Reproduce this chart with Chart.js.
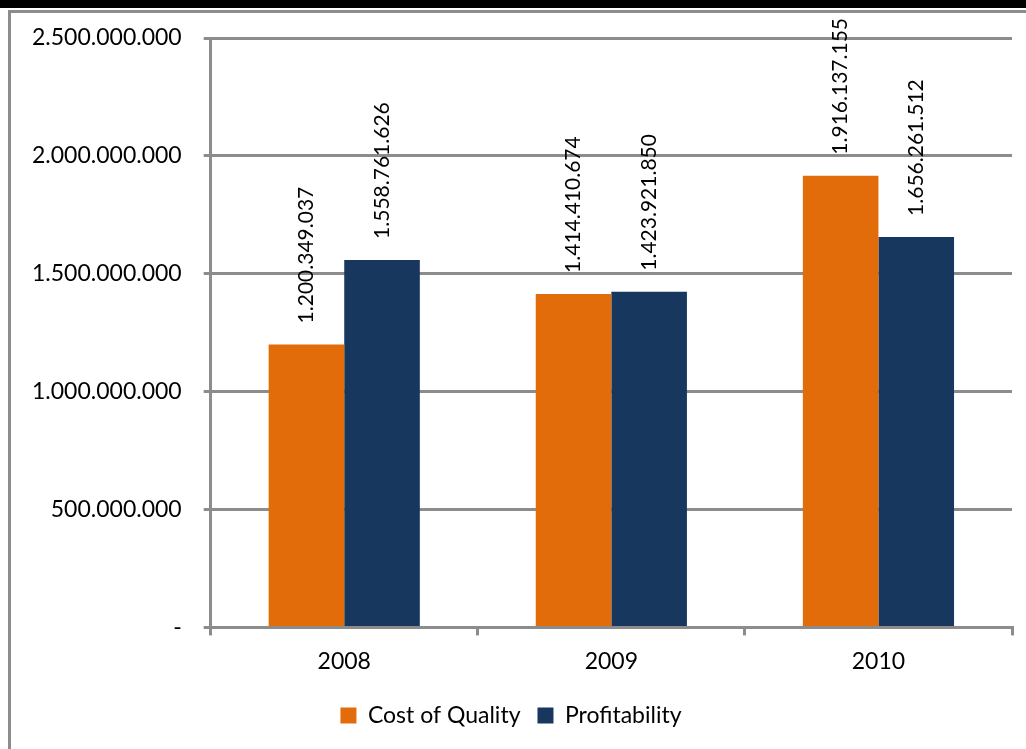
<!DOCTYPE html>
<html>
<head>
<meta charset="utf-8">
<script src="https://cdn.jsdelivr.net/npm/chart.js@4"></script>
<style>
  html, body { margin: 0; padding: 0; background: #fff; }
  #wrap { position: relative; width: 1026px; height: 749px; overflow: hidden; }
  #topbar { position: absolute; left: 0; top: 0; width: 1026px; height: 8px; background: #000; }
  #frame { position: absolute; left: 8px; top: 10px; width: 1100px; height: 800px;
           border-left: 3px solid #8c8c8c; border-top: 3px solid #8c8c8c; }
  canvas { position: absolute; left: 0; top: 0; }
</style>
</head>
<body>
<div id="wrap">
  <div id="topbar"></div>
  <div id="frame"></div>
  <canvas id="grafico" width="1026" height="749"></canvas>
</div>
<script>
var anos = ["2008", "2009", "2010"];
var costOfQuality = [1200349037, 1414410674, 1916137155];
var profitability = [1558761626, 1423921850, 1656261512];
var yTicks = [0, 500000000, 1000000000, 1500000000, 2000000000, 2500000000];

function formatar(v) {
  if (v === 0) return "-";
  return String(Math.round(v)).replace(/\B(?=(\d{3})+(?!\d))/g, ".");
}

// value labels drawn vertically above each bar
var rotulos = {
  id: "rotulos",
  afterDatasetsDraw: function (chart) {
    var ctx = chart.ctx;
    ctx.save();
    ctx.font = "21px Lato";
    ctx.fillStyle = "#000";
    ctx.textAlign = "left";
    ctx.textBaseline = "middle";
    chart.data.datasets.forEach(function (ds, i) {
      chart.getDatasetMeta(i).data.forEach(function (bar, j) {
        ctx.save();
        ctx.translate(bar.x, bar.y - 21);
        ctx.rotate(-Math.PI / 2);
        ctx.fillText(formatar(ds.data[j]), 0, 0);
        ctx.restore();
      });
    });
    ctx.restore();
  }
};

var ctx = document.getElementById("grafico").getContext("2d");
var chart = new Chart(ctx, {
  type: "bar",
  data: {
    labels: anos,
    datasets: [
      {
        label: "Cost of Quality",
        data: costOfQuality,
        backgroundColor: "#E36C0A",
        categoryPercentage: 0.566,
        barPercentage: 1.0
      },
      {
        label: "Profitability",
        data: profitability,
        backgroundColor: "#17375E",
        categoryPercentage: 0.566,
        barPercentage: 1.0
      }
    ]
  },
  options: {
    responsive: false,
    animation: false,
    layout: { padding: { top: 38, right: 14, left: 10, bottom: 12 } },
    plugins: {
      tooltip: { enabled: false },
      legend: {
        position: "bottom",
        labels: {
          boxWidth: 16,
          boxHeight: 16,
          padding: 17,
          color: "#000",
          font: { family: "Lato", size: 23 }
        }
      }
    },
    scales: {
      x: {
        grid: {
          offset: true,
          drawOnChartArea: false,
          drawTicks: true,
          tickLength: 8,
          color: "#8c8c8c",
          lineWidth: 3
        },
        border: { color: "#8c8c8c", width: 3 },
        ticks: { color: "#000", padding: 12, font: { family: "Lato", size: 23 } }
      },
      y: {
        min: 0,
        max: 2500000000,
        afterBuildTicks: function (axis) {
          axis.ticks = yTicks.map(function (v) { return { value: v }; });
        },
        grid: {
          color: "#8c8c8c",
          lineWidth: 3,
          tickLength: 7
        },
        border: { color: "#8c8c8c", width: 3 },
        ticks: {
          color: "#000",
          padding: 22,
          font: { family: "Lato", size: 23 },
          callback: function (v) { return formatar(v); }
        }
      }
    }
  },
  plugins: [rotulos]
});
</script>
</body>
</html>
